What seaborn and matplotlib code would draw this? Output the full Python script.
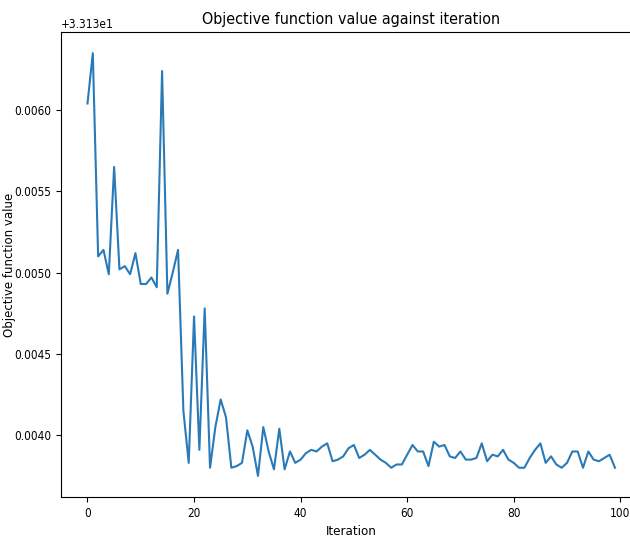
import matplotlib
matplotlib.use("Agg")
import matplotlib.pyplot as plt
import seaborn as sns
import pandas as pd

# --- data (values are offsets from 33.13) ---
base_value = 33.13
iterations = list(range(100))
offsets = [
    0.00604, 0.00635, 0.00510, 0.00514, 0.00499, 0.00565, 0.00502, 0.00504, 0.00499, 0.00512,
    0.00493, 0.00493, 0.00497, 0.00491, 0.00624, 0.00487, 0.00500, 0.00514, 0.00415, 0.00383,
    0.00473, 0.00391, 0.00478, 0.00380, 0.00405, 0.00422, 0.00411, 0.00380, 0.00381, 0.00383,
    0.00403, 0.00393, 0.00375, 0.00405, 0.00390, 0.00379, 0.00404, 0.00379, 0.00390, 0.00383,
    0.00385, 0.00389, 0.00391, 0.00390, 0.00393, 0.00395, 0.00384, 0.00385, 0.00387, 0.00392,
    0.00394, 0.00386, 0.00388, 0.00391, 0.00388, 0.00385, 0.00383, 0.00380, 0.00382, 0.00382,
    0.00388, 0.00394, 0.00390, 0.00390, 0.00381, 0.00396, 0.00393, 0.00394, 0.00387, 0.00386,
    0.00390, 0.00385, 0.00385, 0.00386, 0.00395, 0.00384, 0.00388, 0.00387, 0.00391, 0.00385,
    0.00383, 0.00380, 0.00380, 0.00386, 0.00391, 0.00395, 0.00383, 0.00387, 0.00382, 0.00380,
    0.00383, 0.00390, 0.00390, 0.00380, 0.00390, 0.00385, 0.00384, 0.00386, 0.00388, 0.00380,
]

df = pd.DataFrame({
    "iteration": iterations,
    "objective": [base_value + v for v in offsets],
})

fig = plt.figure(figsize=(6.3, 5.42), dpi=100)
# axes run past the right edge like in the cropped reference
ax = fig.add_axes([0.097, 0.083, 0.921, 0.858])

sns.lineplot(data=df, x="iteration", y="objective", ax=ax, color="#2a7ab8", linewidth=1.5)

ax.set_title("Objective function value against iteration", fontsize=11.5, fontstretch="condensed")
ax.set_xlabel("Iteration", fontsize=9.5, fontstretch="condensed")
ax.set_ylabel("Objective function value", fontsize=8.5)
ax.yaxis.set_label_coords(-0.078, 0.5)
ax.set_xticks([0, 20, 40, 60, 80, 100])

for lbl in ax.get_xticklabels() + ax.get_yticklabels():
    lbl.set_fontstretch("condensed")
    lbl.set_fontsize(8.5)
ax.yaxis.get_offset_text().set_fontstretch("condensed")
ax.yaxis.get_offset_text().set_fontsize(8.5)

fig.savefig("out.png", dpi=100)
